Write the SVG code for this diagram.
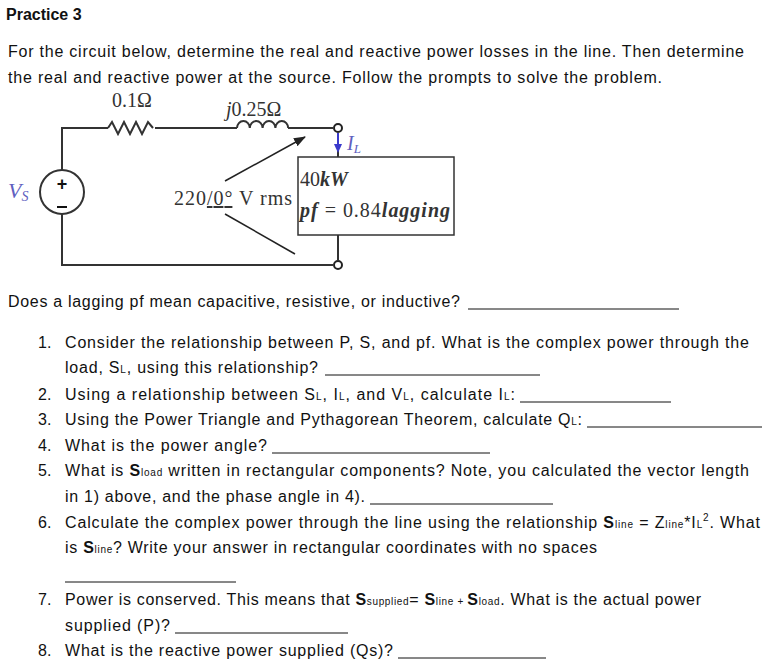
<svg xmlns="http://www.w3.org/2000/svg" width="769" height="665" viewBox="0 0 769 665">
<style>
.t{font-family:"Liberation Sans",Arial,sans-serif;font-size:16px;fill:#111}
.s{font-size:10px}
.c{font-family:"Liberation Serif","Times New Roman",serif;font-size:20px;fill:#333}
.w{stroke:#333;stroke-width:2;fill:none}
.u{stroke:#111;stroke-width:1}
.b{font-weight:bold}
</style>
<defs><marker id="ah" markerWidth="12" markerHeight="9" refX="11" refY="4.5" orient="auto" markerUnits="userSpaceOnUse"><path d="M0,0L12,4.5L0,9Z" fill="#222"/></marker></defs>
<rect width="769" height="665" fill="#fff"/>
<text class="t b" x="6" y="20">Practice 3</text>
<text class="t" x="8" y="57" textLength="736">For the circuit below, determine the real and reactive power losses in the line. Then determine</text>
<text class="t" x="8" y="83" textLength="654">the real and reactive power at the source. Follow the prompts to solve the problem.</text>
<g id="circuit">
<g id="wires">
<path class="w" d="M62,170V128H108M155,128H237M288,128H333"/>
<path class="w" d="M62,214V265H333"/>
<path class="w" d="M338,133V157M338,235V260"/>
</g>
<g id="resistor"><path class="w" d="M108,128l4,-6l6,12l6,-12l6,12l6,-12l6,12l6,-12l5,6" stroke-width="2"/><text class="c" x="112" y="107">0.1Ω</text></g>
<g id="inductor"><path class="w" stroke-width="2" d="M237,128a6.4,7 0 0 1 12.8,0a6.4,7 0 0 1 12.8,0a6.4,7 0 0 1 12.8,0a6.4,7 0 0 1 12.8,0"/><text class="c" x="226" y="116"><tspan font-style="italic">j</tspan>0.25Ω</text></g>
<g id="source"><circle class="w" cx="62" cy="192" r="22"/><text x="62" y="190" font-family="Liberation Sans,sans-serif" font-size="18" font-weight="bold" text-anchor="middle" fill="#111">+</text><line x1="57" y1="207" x2="67" y2="207" stroke="#111" stroke-width="2"/><text x="8" y="198" font-family="Liberation Serif,serif" font-style="italic" font-size="22" fill="#6060c0">V<tspan font-size="14" dy="3">S</tspan></text></g>
<g id="terminals"><circle cx="338" cy="128" r="4" fill="#fff" stroke="#222" stroke-width="2"/><circle cx="338" cy="265" r="4" fill="#fff" stroke="#222" stroke-width="2"/></g>
<g id="load"><rect x="298" y="157" width="156" height="78" fill="#fff" stroke="#333" stroke-width="1.5"/><text class="c" x="300" y="186" fill="#111">40<tspan font-weight="bold" font-style="italic">kW</tspan></text><text class="c" x="300" y="217" fill="#111" textLength="150"><tspan font-weight="bold" font-style="italic">pf</tspan> = 0.84<tspan font-weight="bold" font-style="italic">lagging</tspan></text></g>
<g id="current"><line x1="338" y1="133" x2="338" y2="146" stroke="#3a3acc" stroke-width="2"/><polygon points="334,144 342,144 338,153" fill="#3a3acc"/><text x="347" y="150" font-family="Liberation Serif,serif" font-style="italic" font-size="20" fill="#6060c0">I<tspan font-size="13" dy="3">L</tspan></text></g>
<g id="voltage"><text class="c" x="174" y="205" textLength="118">220<tspan text-decoration="underline">/0°</tspan> V rms</text>
<line x1="225" y1="181" x2="305" y2="137" stroke="#222" stroke-width="1.5" marker-end="url(#ah)"/><line x1="225" y1="214" x2="295" y2="254" stroke="#222" stroke-width="1.5"/></g>
</g>
<text class="t" x="8" y="307" textLength="452">Does a lagging pf mean capacitive, resistive, or inductive?</text>
<line class="u" x1="468" y1="309" x2="679" y2="309"/>
<g>
<text class="t" x="38" y="348">1.</text><text class="t" x="65" y="348" textLength="684">Consider the relationship between P, S, and pf. What is the complex power through the</text>
<text class="t" x="65" y="373" textLength="253">load, S<tspan class="s">L</tspan>, using this relationship?</text><line class="u" x1="325" y1="375" x2="540" y2="375"/>
<text class="t" x="38" y="400">2.</text><text class="t" x="65" y="400" textLength="450">Using a relationship between S<tspan class="s">L</tspan>, I<tspan class="s">L</tspan>, and V<tspan class="s">L</tspan>, calculate I<tspan class="s">L</tspan>:</text><line class="u" x1="520" y1="402" x2="671" y2="402"/>
<text class="t" x="38" y="425">3.</text><text class="t" x="65" y="425" textLength="517">Using the Power Triangle and Pythagorean Theorem, calculate Q<tspan class="s">L</tspan>:</text><line class="u" x1="587" y1="427" x2="762" y2="427"/>
<text class="t" x="38" y="451">4.</text><text class="t" x="65" y="451" textLength="202">What is the power angle?</text><line class="u" x1="272" y1="453" x2="490" y2="453"/>
<text class="t" x="38" y="476">5.</text><text class="t" x="65" y="476" textLength="684">What is <tspan class="b">S</tspan><tspan class="s">load</tspan> written in rectangular components? Note, you calculated the vector length</text>
<text class="t" x="65" y="502" textLength="300">in 1) above, and the phase angle in 4).</text><line class="u" x1="370" y1="504" x2="553" y2="504"/>
<text class="t" x="38" y="528">6.</text><text class="t" x="65" y="528" textLength="695">Calculate the complex power through the line using the relationship <tspan class="b">S</tspan><tspan class="s">line</tspan> = Z<tspan class="s">line</tspan>*I<tspan class="s">L</tspan><tspan class="s" dy="-7">2</tspan><tspan dy="7">. What</tspan></text>
<text class="t" x="65" y="553" textLength="532">is <tspan class="b">S</tspan><tspan class="s">line</tspan>? Write your answer in rectangular coordinates with no spaces</text>
<line class="u" x1="65" y1="582" x2="236" y2="582"/>
<text class="t" x="38" y="605">7.</text><text class="t" x="65" y="605" textLength="636">Power is conserved. This means that <tspan class="b">S</tspan><tspan class="s">supplied</tspan>= <tspan class="b">S</tspan><tspan class="s">line + </tspan><tspan class="b">S</tspan><tspan class="s">load</tspan>. What is the actual power</text>
<text class="t" x="65" y="631" textLength="105">supplied (P)?</text><line class="u" x1="175" y1="633" x2="348" y2="633"/>
<text class="t" x="38" y="656">8.</text><text class="t" x="65" y="656" textLength="328">What is the reactive power supplied (Qs)?</text><line class="u" x1="398" y1="658" x2="546" y2="658"/>
</g>
</svg>
